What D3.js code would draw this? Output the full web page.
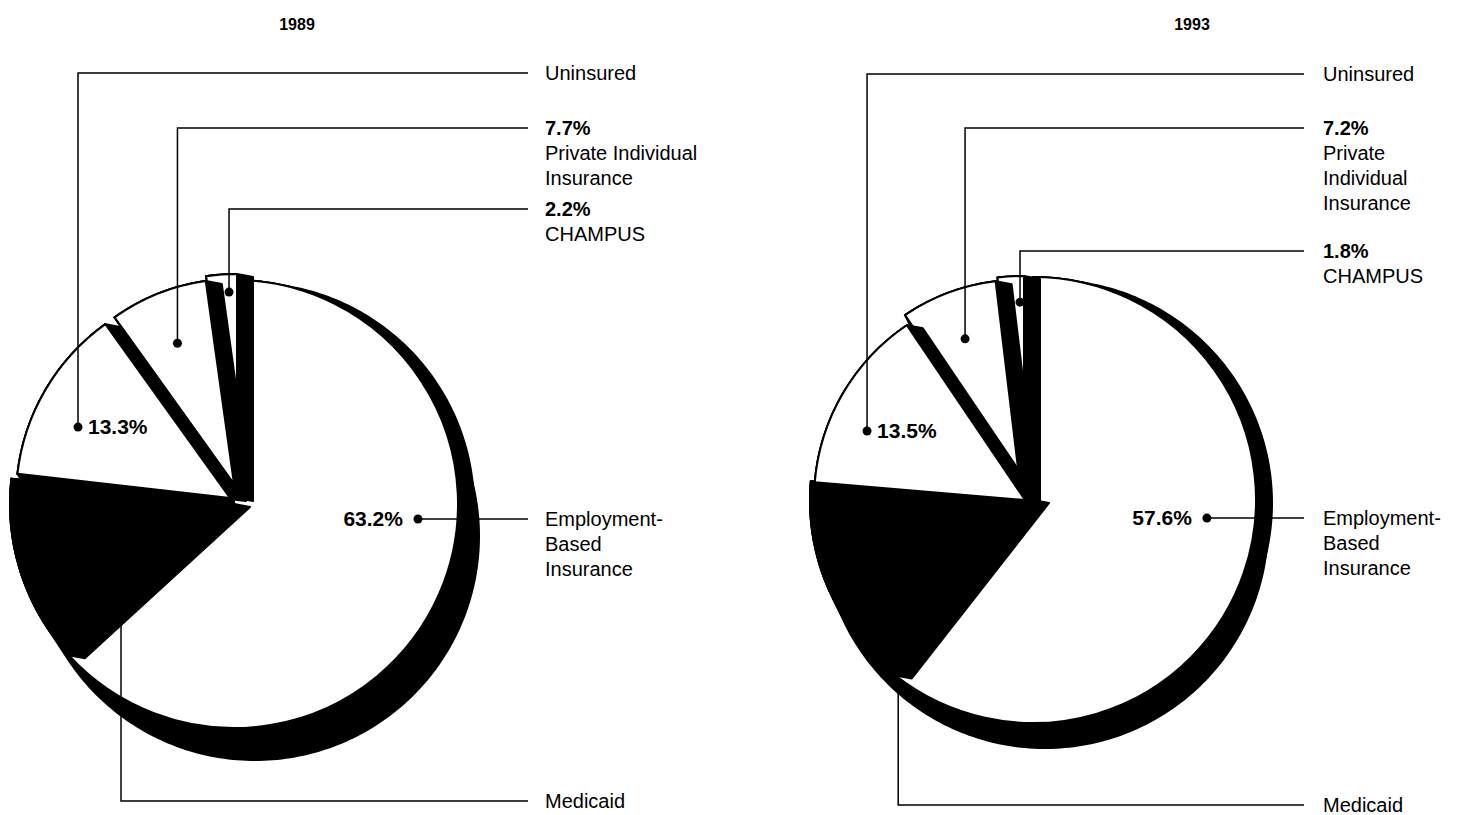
<!DOCTYPE html>
<html>
<head>
<meta charset="utf-8">
<script src="https://cdn.jsdelivr.net/npm/d3@7"></script>
<style>
  body { margin: 0; background: #fff; }
  svg { display: block; font-family: "Liberation Sans", Arial, Helvetica, sans-serif; }
</style>
</head>
<body>
<div id="vis"></div>
<script>
// ---- data ----
const years = ['1989', '1993'];
const categories = ['Employment-Based Insurance', 'Medicaid', 'Uninsured', 'Private Individual Insurance', 'CHAMPUS'];
const values1989 = [63.2, 13.6, 13.3, 7.7, 2.2];
const values1993 = [57.6, 15.0, 13.5, 7.2, 1.8];
const labelLines1989 = [['Employment-', 'Based', 'Insurance'], ['Medicaid'], ['Uninsured'], ['Private Individual', 'Insurance'], ['CHAMPUS']];
const labelLines1993 = [['Employment-', 'Based', 'Insurance'], ['Medicaid'], ['Uninsured'], ['Private', 'Individual', 'Insurance'], ['CHAMPUS']];

// ---- style / layout ----
const width = 1463;
const height = 815;
const fills = ['white', 'black', 'white', 'white', 'white'];
const pctMode = ['left', 'none', 'right', 'block', 'block']; // where the percentage goes
const drawOrder = [0, 1, 4, 3, 2];                           // painter's order of slices
const lineGap = 25;

const layouts = [
    {
        cx: 234, cy: 504, r: 224, side: [16, 3], shadow: [21, 32],
        titleX: 297, textX: 545, lineEnd: 528,
        shift: [[0, 0], [0, 0], [-4, -6], [0, -20], [3, -6]],
        scale: [1, 1, 0.955, 0.915, 1],
        anchor: [[0.416, 0.824], [0.106, 0.634], [0.387, 0.784], [0.496, 0.74], [0.72, 0.92]],
        labelY: [null, 801, 73, 128, 209]
    },
    {
        cx: 1033, cy: 500, r: 223, side: [16, 3], shadow: [12, 25],
        titleX: 1192, textX: 1323, lineEnd: 1304,
        shift: [[0, 0], [0, 0], [-8, 0], [-13, -15], [-9, -1]],
        scale: [1, 1, 0.946, 0.92, 1],
        anchor: [[0.44, 0.784], [0.105, 0.87], [0.367, 0.817], [0.494, 0.761], [0.83, 0.883]],
        labelY: [null, 805, 74, 128, 251]
    }
];

const pies = [
    { year: years[0], values: values1989, lines: labelLines1989 },
    { year: years[1], values: values1993, lines: labelLines1993 }
];

const svg = d3.select('#vis')
    .append('svg')
    .attr('width', width)
    .attr('height', height);

const pie = d3.pie().sort(null).value(d => d);
const arc = d3.arc().innerRadius(0);
const fmt = d3.format('.1f');

// solid extrusion of a slice along vector v (split into convex pieces, hull of piece + shifted piece)
function extrude(sel, a, c, rad, v) {
    const span = a.endAngle - a.startAngle;
    const n = Math.ceil(span / (Math.PI / 2));
    for (let k = 0; k < n; k++) {
        const s0 = a.startAngle + span * k / n;
        const s1 = a.startAngle + span * (k + 1) / n;
        const pts = [[0, 0]];
        const steps = Math.max(2, Math.ceil((s1 - s0) / 0.02));
        for (let j = 0; j <= steps; j++) {
            const t = s0 + (s1 - s0) * j / steps;
            pts.push([Math.sin(t) * rad, -Math.cos(t) * rad]);
        }
        const hull = d3.polygonHull(pts.concat(pts.map(q => [q[0] + v[0], q[1] + v[1]])));
        sel.append('path')
            .attr('d', 'M' + hull.join('L') + 'Z')
            .attr('transform', `translate(${c})`)
            .attr('fill', 'black')
            .attr('stroke', 'black')
            .attr('stroke-width', 2)
            .attr('stroke-linejoin', 'round');
    }
}

pies.forEach((p, pi) => {
    const L = layouts[pi];
    const arcs = pie(p.values);
    const g = svg.append('g');
    const centerOf = i => [L.cx + L.shift[i][0], L.cy + L.shift[i][1]];
    const radiusOf = i => L.r * L.scale[i];

    svg.append('text')
        .attr('x', L.titleX)
        .attr('y', 30)
        .attr('text-anchor', 'middle')
        .attr('font-size', '16px')
        .attr('font-weight', 'bold')
        .text(p.year);

    // drop shadow under the whole pie
    const shadow = g.append('g');
    arcs.forEach((a, i) => extrude(shadow, a, centerOf(i), radiusOf(i), L.shadow));

    // slice sides + tops
    drawOrder.forEach(i => {
        extrude(g, arcs[i], centerOf(i), radiusOf(i), L.side);
        g.append('path')
            .attr('d', arc.outerRadius(radiusOf(i))(arcs[i]))
            .attr('transform', `translate(${centerOf(i)})`)
            .attr('fill', fills[i])
            .attr('stroke', 'black')
            .attr('stroke-width', 2)
            .attr('stroke-linejoin', 'miter');
    });

    // leaders and labels
    const ann = svg.append('g');
    arcs.forEach((a, i) => {
        const c = centerOf(i);
        const ang = a.startAngle + (a.endAngle - a.startAngle) * L.anchor[i][0];
        const rr = radiusOf(i) * L.anchor[i][1];
        const dx = c[0] + Math.sin(ang) * rr;
        const dy = c[1] - Math.cos(ang) * rr;
        const ly = L.labelY[i] == null ? dy : L.labelY[i];
        const pts = L.labelY[i] == null ? [[dx, dy], [L.lineEnd, dy]] : [[dx, dy], [dx, ly], [L.lineEnd, ly]];

        ann.append('path')
            .attr('d', d3.line()(pts))
            .attr('fill', 'none')
            .attr('stroke', 'black')
            .attr('stroke-width', 1.5);
        ann.append('circle')
            .attr('cx', dx)
            .attr('cy', dy)
            .attr('r', 4.5)
            .attr('fill', 'black');

        const pct = fmt(p.values[i]) + '%';
        if (pctMode[i] === 'left' || pctMode[i] === 'right') {
            ann.append('text')
                .attr('x', pctMode[i] === 'left' ? dx - 15 : dx + 10)
                .attr('y', dy + 7)
                .attr('text-anchor', pctMode[i] === 'left' ? 'end' : 'start')
                .attr('font-size', '21px')
                .attr('font-weight', 'bold')
                .text(pct);
        }

        const block = pctMode[i] === 'block' ? [{ t: pct, b: true }] : [];
        p.lines[i].forEach(t => block.push({ t: t, b: false }));
        ann.selectAll(null)
            .data(block)
            .join('text')
            .attr('x', L.textX)
            .attr('y', (d, j) => ly + 7 + j * lineGap)
            .attr('font-size', '20px')
            .attr('font-weight', d => d.b ? 'bold' : 'normal')
            .text(d => d.t);
    });
});
</script>
</body>
</html>
